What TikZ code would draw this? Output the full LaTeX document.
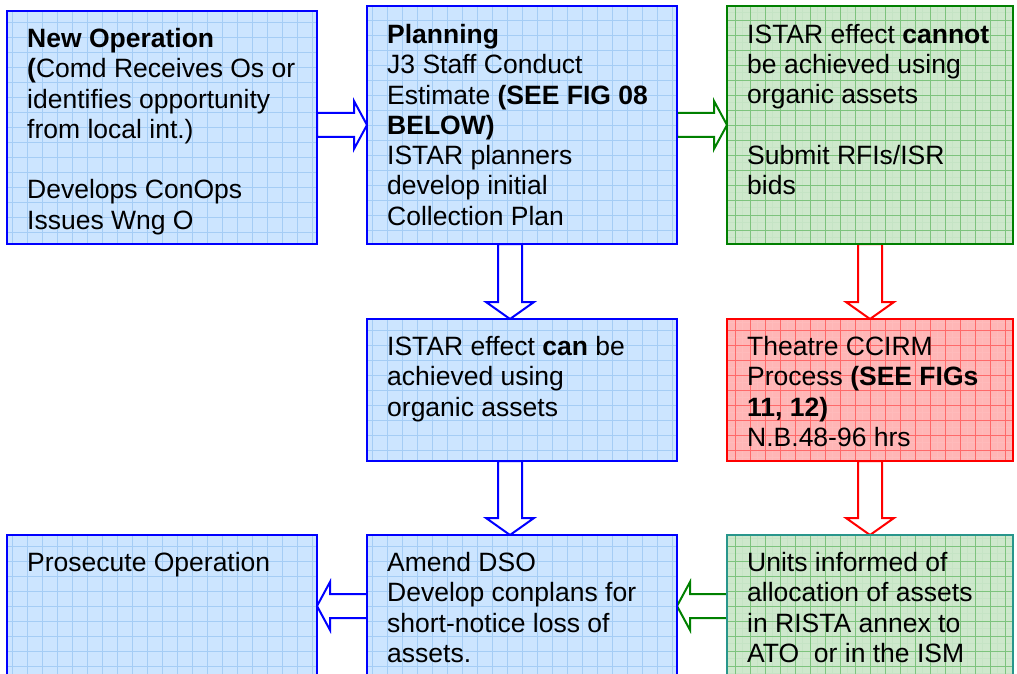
\documentclass[tikz,border=0pt]{standalone}
\usepackage{fontspec}
\setmainfont{Liberation Sans}
\usetikzlibrary{calc,backgrounds}

\definecolor{boxblue}{RGB}{0,0,255}
\definecolor{fillblue}{RGB}{204,229,255}
\definecolor{gridblue}{RGB}{165,205,245}
\definecolor{boxgreen}{RGB}{0,128,0}
\definecolor{fillgreen}{RGB}{206,232,204}
\definecolor{gridgreen}{RGB}{125,195,125}
\definecolor{boxred}{RGB}{255,0,0}
\definecolor{fillred}{RGB}{255,182,182}
\definecolor{gridred}{RGB}{255,105,105}
\definecolor{boxteal}{RGB}{40,150,140}

% hollow block arrow: colour, from, to, head length
\newcommand{\blockarrow}[4]{%
  \coordinate (ba-s) at (#2);
  \coordinate (ba-t) at (#3);
  \coordinate (ba-h) at ($(ba-t)!#4!(ba-s)$);
  \filldraw[arrowline, draw=#1]
    ($(ba-s)!12pt!90:(ba-t)$) -- ($(ba-h)!12pt!-90:(ba-s)$) -- ($(ba-h)!24pt!-90:(ba-s)$)
    -- (ba-t) -- ($(ba-h)!24pt!90:(ba-s)$) -- ($(ba-h)!12pt!90:(ba-s)$)
    -- ($(ba-s)!12pt!-90:(ba-t)$) -- cycle;
}

\begin{document}
\begin{tikzpicture}[x=1pt,y=-1pt,
    box/.style={draw, line width=2.5pt, inner sep=0pt, outer sep=0pt, anchor=north west},
    bluebox/.style={box, draw=boxblue, fill=fillblue,
      path picture={\draw[gridblue, line width=0.6pt, step=15pt]
        (path picture bounding box.south west) grid (path picture bounding box.north east);}},
    greenbox/.style={box, draw=boxgreen, fill=fillgreen,
      path picture={\draw[gridgreen!45, line width=0.4pt, step=7.5pt]
        (path picture bounding box.south west) grid (path picture bounding box.north east);
        \draw[gridgreen, line width=0.6pt, step=15pt]
        (path picture bounding box.south west) grid (path picture bounding box.north east);}},
    redbox/.style={box, draw=boxred, fill=fillred,
      path picture={\draw[gridred!45, line width=0.4pt, step=7.5pt]
        (path picture bounding box.south west) grid (path picture bounding box.north east);
        \draw[gridred, line width=0.6pt, step=15pt]
        (path picture bounding box.south west) grid (path picture bounding box.north east);}},
    txt/.style={anchor=north west, align=left, inner sep=0pt, font=\fontsize{26.5}{30.3}\selectfont},
    arrowline/.style={line width=2pt, fill=white, line join=miter}]

  \useasboundingbox (0,0) rectangle (1017,674);
  \clip (0,0) rectangle (1017,674);

  % Top row
  \node[bluebox, minimum width=310, minimum height=233] (newop) at (7,11) {};
  \node[bluebox, minimum width=310, minimum height=238] (planning) at (367,6) {};
  \node[greenbox, minimum width=286, minimum height=238] (nobid) at (727,6) {};

  % Middle row
  \node[bluebox, minimum width=310, minimum height=142] (organic) at (367,319) {};
  \node[redbox, minimum width=286, minimum height=142] (ccirm) at (727,319) {};

  % Bottom row (runs off the page)
  \node[bluebox, minimum width=310, minimum height=142] (prosecute) at (7,535) {};
  \node[bluebox, minimum width=310, minimum height=142] (amend) at (367,535) {};
  \node[greenbox, draw=boxteal, minimum width=286, minimum height=142] (informed) at (727,535) {};

  % Texts
  \node[txt] (newop-text) at ([shift={(20pt,-17pt)}]newop.north west)
    {\textbf{New Operation}\\ \textbf{(}Comd Receives Os or\\ identifies opportunity\\
     from local int.)\\[30.3pt] Develops ConOps\\ Issues Wng O};
  \node[txt] (planning-text) at ([shift={(20pt,-18pt)}]planning.north west)
    {\textbf{Planning}\\ J3 Staff Conduct\\ Estimate \textbf{(SEE FIG 08}\\ \textbf{BELOW)}\\
     ISTAR planners\\ develop initial\\ Collection Plan};
  \node[txt] (nobid-text) at ([shift={(20pt,-18pt)}]nobid.north west)
    {ISTAR effect \textbf{cannot}\\ be achieved using\\ organic assets\\[30.3pt]
     Submit RFIs/ISR\\ bids};
  \node[txt] (organic-text) at ([shift={(20pt,-17pt)}]organic.north west)
    {ISTAR effect \textbf{can} be\\ achieved using\\ organic assets};
  \node[txt] (ccirm-text) at ([shift={(20pt,-17pt)}]ccirm.north west)
    {Theatre CCIRM\\ Process \textbf{(SEE FIGs}\\ \textbf{11, 12)}\\ N.B.48-96 hrs};
  \node[txt] (prosecute-text) at ([shift={(20pt,-17pt)}]prosecute.north west)
    {Prosecute Operation};
  \node[txt] (amend-text) at ([shift={(20pt,-17pt)}]amend.north west)
    {Amend DSO\\ Develop conplans for\\ short-notice loss of\\ assets.};
  \node[txt] (informed-text) at ([shift={(20pt,-17pt)}]informed.north west)
    {Units informed of\\ allocation of assets\\ in RISTA annex to\\ ATO\ \ or in the ISM};

  % Arrows (behind the boxes)
  \begin{pgfonlayer}{background}
    \blockarrow{boxblue}{newop.east |- planning.west}{planning.west}{13pt}
    \blockarrow{boxgreen}{planning.east}{nobid.west}{13pt}
    \blockarrow{boxblue}{[xshift=-12pt]planning.south}{[xshift=-12pt]organic.north}{17pt}
    \blockarrow{boxred}{nobid.south}{ccirm.north}{17pt}
    \blockarrow{boxblue}{[xshift=-12pt]organic.south}{[xshift=-12pt]amend.north}{17pt}
    \blockarrow{boxred}{ccirm.south}{informed.north}{17pt}
    \blockarrow{boxgreen}{informed.west}{amend.east}{13pt}
    \blockarrow{boxblue}{amend.west}{prosecute.east}{13pt}
  \end{pgfonlayer}
\end{tikzpicture}
\end{document}
